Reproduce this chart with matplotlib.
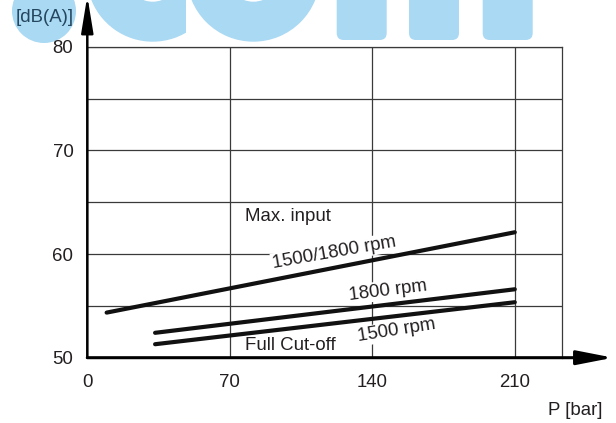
import matplotlib
matplotlib.use("Agg")
import matplotlib.pyplot as plt
from matplotlib.patches import Circle, Wedge, FancyBboxPatch, Rectangle

plt.rcParams['font.family'] = ['Liberation Sans', 'DejaVu Sans']

# noise level vs. pressure, three operating curves (start / end points)
pressure_maxin = [9.5, 210]
db_maxin = [54.35, 62.1]
pressure_1800 = [33.3, 210]
db_1800 = [52.4, 56.6]
pressure_1500 = [33.3, 210]
db_1500 = [51.3, 55.35]

x_ticks = [0, 70, 140, 210]
y_ticks = [50, 55, 60, 65, 70, 75, 80]
y_ticklabels = ['50', '', '60', '', '70', '', '80']

W, H = 616, 423
fig = plt.figure(figsize=(W / 100, H / 100), dpi=100)

# light blue logo in the background, drawn in pixel units
bg = fig.add_axes([0, 0, 1, 1], zorder=-5)
bg.set_xlim(0, W)
bg.set_ylim(H, 0)
bg.axis('off')
wm = '#aad9f3'
bg.add_patch(Circle((44, 11), 32, color=wm, lw=0))
c_shape = Wedge((152.7, -24.3), 66, 35, 325, width=40, color=wm, lw=0)
bg.add_patch(c_shape)
c_clip = Rectangle((0, -100), 186, 200, transform=bg.transData)
c_shape.set_clip_path(c_clip)
bg.add_patch(Wedge((253.4, -25), 66.7, 0, 360, width=40, color=wm, lw=0))
for x0 in [336.7, 409, 482.7]:
    bg.add_patch(FancyBboxPatch((x0, -20), 50, 60, color=wm, lw=0,
                                boxstyle='round,pad=0,rounding_size=7'))

ax = fig.add_axes([87.3 / W, 1 - 357.7 / H, (562 - 87.3) / W, (357.7 - 46.7) / H])
ax.set_facecolor('none')
ax.set_xlim(0, 233.2)
ax.set_ylim(50, 80)

grid_c = '#3a3a3a'
for s in ['left', 'bottom']:
    ax.spines[s].set_visible(False)
for s in ['top', 'right']:
    ax.spines[s].set_color(grid_c)
    ax.spines[s].set_linewidth(0.9)

ax.set_xticks(x_ticks)
ax.set_yticks(y_ticks)
ax.set_yticklabels(y_ticklabels)
ax.tick_params(length=0, labelsize=13.4, colors='#231f20')
ax.tick_params(axis='x', pad=11.5)
ax.tick_params(axis='y', pad=10)
ax.grid(True, color=grid_c, linewidth=0.9)
ax.set_axisbelow(True)

# axis arrows
ax.annotate('', xy=(0, 84.9), xytext=(0, 50), annotation_clip=False,
            arrowprops=dict(arrowstyle='-|>,head_length=2.2,head_width=0.36',
                            lw=1.8, color='black', shrinkA=0, shrinkB=0,
                            mutation_scale=10))
ax.annotate('', xy=(258.3, 50), xytext=(0, 50), annotation_clip=False,
            arrowprops=dict(arrowstyle='-|>,head_length=2.2,head_width=0.43',
                            lw=2.2, color='black', shrinkA=0, shrinkB=0,
                            mutation_scale=10))

lw = 3
for px, py in [(pressure_maxin, db_maxin), (pressure_1800, db_1800),
               (pressure_1500, db_1500)]:
    ax.plot(px, py, color='#111111', lw=lw, solid_capstyle='round', zorder=4)

box = dict(facecolor='white', edgecolor='none', pad=1)
fs = 13.4
ax.text(77.5, 63.6, 'Max. input', fontsize=fs, ha='left', va='center',
        color='#231f20', bbox=box, zorder=3)
ax.text(121.3, 60.15, '1500/1800 rpm', fontsize=fs, ha='center', va='center',
        rotation=10, color='#231f20', bbox=box, zorder=3)
ax.text(147.5, 56.5, '1800 rpm', fontsize=fs, ha='center', va='center',
        rotation=7, color='#231f20', bbox=box, zorder=3)
ax.text(152, 52.6, '1500 rpm', fontsize=fs, ha='center', va='center',
        rotation=9, color='#231f20', bbox=box, zorder=3)
ax.text(77.5, 51.13, 'Full Cut-off', fontsize=fs, ha='left', va='center',
        color='#231f20', bbox=box, zorder=3)

fig.text(603 / W, 1 - 410 / H, 'P [bar]', fontsize=fs, ha='right', va='center',
         color='#231f20')
fig.text(44.3 / W, 1 - 17 / H, '[dB(A)]', fontsize=fs, ha='center', va='center',
         color='#24465e')

fig.savefig('out.png', dpi=100)
